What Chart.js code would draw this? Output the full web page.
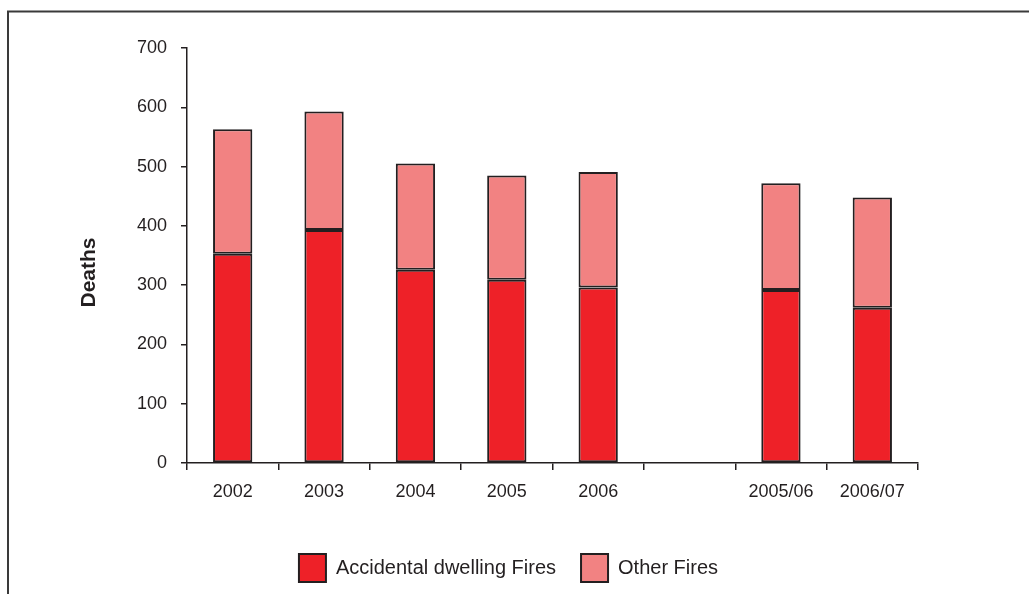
<!DOCTYPE html>
<html>
<head>
<meta charset="utf-8">
<script src="https://cdn.jsdelivr.net/npm/chart.js@4"></script>
<style>
html,body{margin:0;padding:0;background:#fff;}
#wrap{position:relative;width:1029px;height:594px;}
canvas{display:block;}
</style>
</head>
<body>
<div id="wrap"><canvas id="c" width="1029" height="594"></canvas></div>
<script>
const categories = ['2002', '2003', '2004', '2005', '2006', '', '2005/06', '2006/07'];
const accidentalDwelling = [353, 393, 326, 309, 296, null, 292, 262];
const otherFires = [210, 200, 179, 176, 195, null, 180, 186];
const yTicks = [0, 100, 200, 300, 400, 500, 600, 700];
const yTitle = 'Deaths';
const seriesNames = ['Accidental dwelling Fires', 'Other Fires'];

const FONT = '"Liberation Sans", Arial, Helvetica, sans-serif';
const DARK = '#231F20';

const framePlugin = {
  id: 'frame',
  beforeDraw(chart) {
    const ctx = chart.ctx;
    ctx.save();
    ctx.fillStyle = '#fff';
    ctx.fillRect(0, 0, chart.width, chart.height);
    ctx.strokeStyle = '#3a3a3a';
    ctx.lineWidth = 2;
    ctx.beginPath();
    ctx.moveTo(8, chart.height);
    ctx.lineTo(8, 11.5);
    ctx.lineTo(chart.width, 11.5);
    ctx.stroke();
    ctx.restore();
  },
  afterDraw(chart) {
    const ctx = chart.ctx;
    const y = chart.scales.y;
    ctx.save();
    ctx.translate(89, (y.top + y.bottom) / 2 + 17);
    ctx.rotate(-Math.PI / 2);
    ctx.font = 'bold 21px ' + FONT;
    ctx.fillStyle = DARK;
    ctx.textAlign = 'center';
    ctx.textBaseline = 'middle';
    ctx.fillText(yTitle, 0, 0);
    ctx.restore();
  }
};

new Chart(document.getElementById('c'), {
  type: 'bar',
  data: {
    labels: categories,
    datasets: [
      {
        label: seriesNames[0],
        data: accidentalDwelling,
        backgroundColor: '#EE2128',
        borderColor: DARK,
        borderWidth: 2,
        borderSkipped: false,
        barPercentage: 0.43,
        categoryPercentage: 1
      },
      {
        label: seriesNames[1],
        data: otherFires,
        backgroundColor: '#F28282',
        borderColor: DARK,
        borderWidth: 2,
        borderSkipped: false,
        barPercentage: 0.43,
        categoryPercentage: 1
      }
    ]
  },
  options: {
    responsive: false,
    animation: false,
    layout: { padding: { top: 48, left: 0, right: 12, bottom: 2 } },
    plugins: {
      legend: {
        position: 'bottom',
        labels: {
          boxWidth: 27,
          boxHeight: 28,
          padding: 25,
          color: DARK,
          font: { family: FONT, size: 20 }
        }
      },
      tooltip: { enabled: false }
    },
    scales: {
      x: {
        stacked: true,
        grid: { drawOnChartArea: false, drawTicks: true, tickLength: 7, color: DARK, lineWidth: 1.5, offset: true },
        border: { color: DARK, width: 1.5 },
        ticks: { color: DARK, font: { family: FONT, size: 18 }, padding: 11, maxRotation: 0, autoSkip: false },
        afterFit(s) { s.height = 66; }
      },
      y: {
        stacked: true,
        min: 0,
        max: 700,
        afterBuildTicks(s) { s.ticks = yTicks.map(v => ({ value: v })); },
        grid: { drawOnChartArea: false, drawTicks: true, tickLength: 6, color: DARK, lineWidth: 1.5 },
        border: { color: DARK, width: 1.5 },
        ticks: { color: DARK, font: { family: FONT, size: 18 }, padding: 14 },
        afterFit(s) { s.width = 187; }
      },
      y2: {
        position: 'right',
        display: true,
        grid: { display: false, drawTicks: false },
        border: { display: false },
        ticks: { display: false },
        afterFit(s) { s.width = 99; }
      }
    }
  },
  plugins: [framePlugin]
});
</script>
</body>
</html>
